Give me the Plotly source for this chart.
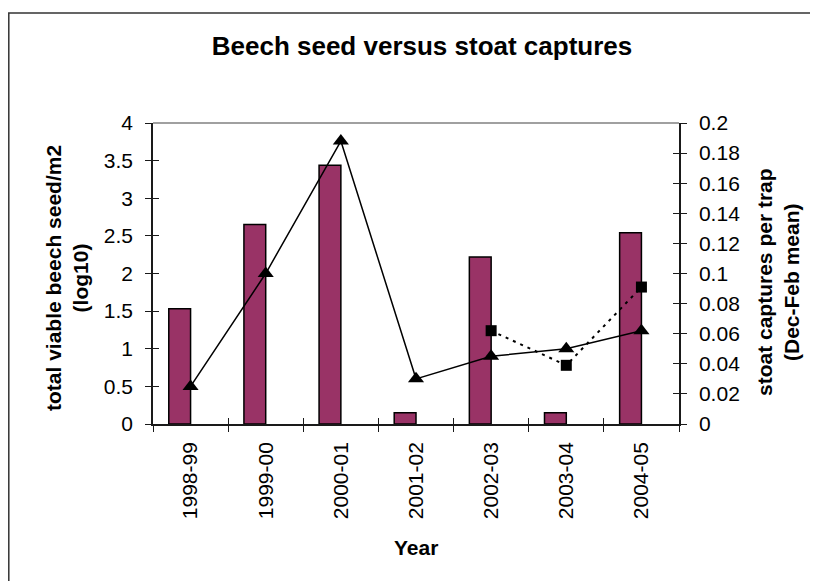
import numpy as np
import plotly.graph_objects as go

# ---- data ----
years = ["1998-99", "1999-00", "2000-01", "2001-02", "2002-03", "2003-04", "2004-05"]
beech_seed_log10 = [1.53, 2.65, 3.44, 0.15, 2.22, 0.15, 2.54]
stoat_captures_a = [0.025, 0.100, 0.188, 0.030, 0.045, 0.050, 0.062]   # triangles, solid
stoat_captures_b = [None, None, None, None, 0.062, 0.039, 0.091]      # squares, dotted

left_ticks = [0, 0.5, 1, 1.5, 2, 2.5, 3, 3.5, 4]
right_ticks = [0, 0.02, 0.04, 0.06, 0.08, 0.1, 0.12, 0.14, 0.16, 0.18, 0.2]
right_tick_text = ["0", "0.02", "0.04", "0.06", "0.08", "0.1", "0.12", "0.14", "0.16", "0.18", "0.2"]

FONT = "Liberation Sans, Arial, sans-serif"
AX = "#1a1a1a"

OFF = 8  # page body margin offset
W, H = 818 - OFF, 581 - OFF   # figure fits inside the window after the body margin
L, R, T, B = 153 - OFF, 679 - OFF, 123 - OFF, 424 - OFF  # plot area in figure pixels


def px(x):
    return (x - OFF - L) / (R - L)


def py(y):
    return (B - (y - OFF)) / (B - T)


fig = go.Figure()

fig.add_trace(go.Bar(
    x=years, y=beech_seed_log10, width=0.29, offset=-0.29,
    marker=dict(color="#993366", line=dict(color="black", width=1.5)),
    xaxis="x", yaxis="y", showlegend=False, hoverinfo="skip"))

fig.add_trace(go.Scatter(
    x=years, y=stoat_captures_a, mode="lines+markers",
    line=dict(color="black", width=1.5),
    marker=dict(symbol="triangle-up", size=14, color="black"),
    xaxis="x", yaxis="y2", showlegend=False, hoverinfo="skip"))

fig.add_trace(go.Scatter(
    x=years, y=stoat_captures_b, mode="lines+markers",
    line=dict(color="black", width=2, dash="3px,5px"),
    marker=dict(symbol="square", size=11, color="black"),
    xaxis="x", yaxis="y2", showlegend=False, hoverinfo="skip"))

# empty helper traces so overlay tick axes exist
n = len(years)
boundaries = list(np.arange(n + 1) - 0.5)
fig.add_trace(go.Scatter(x=[], y=[], xaxis="x2", yaxis="y3", showlegend=False))
fig.add_trace(go.Scatter(x=[], y=[], xaxis="x2", yaxis="y4", showlegend=False))

tickfont = dict(family=FONT, size=21, color="black")

fig.update_layout(
    width=W, height=H,
    margin=dict(l=L, r=W - R, t=T, b=H - B, pad=0),
    paper_bgcolor="white", plot_bgcolor="white",
    showlegend=False,
    title=dict(text="<b>Beech seed versus stoat captures</b>",
               font=dict(family=FONT, size=26, color="black"),
               x=(422 - OFF) / W, xanchor="center", y=1 - (46 - OFF) / H, yanchor="middle"),
    xaxis=dict(type="category", categoryorder="array", categoryarray=years,
               range=[-0.5, n - 0.5], tickson="boundaries",
               ticks="outside", ticklen=6, tickwidth=1.2, tickcolor=AX,
               showline=True, linecolor=AX, linewidth=1.5,
               tickangle=-90, tickfont=tickfont, showgrid=False, zeroline=False,
               ticklabelstandoff=8),
    xaxis2=dict(overlaying="x", anchor="y", side="bottom", range=[-0.5, n - 0.5],
                tickmode="array", tickvals=boundaries, ticks="inside", ticklen=6,
                tickwidth=1.2, tickcolor=AX, showticklabels=False, showline=False,
                showgrid=False, zeroline=False),
    yaxis=dict(range=[0, 4], tickmode="array", tickvals=left_ticks,
               ticks="outside", ticklen=6, tickwidth=1.2, tickcolor=AX,
               showline=True, linecolor=AX, linewidth=1.5,
               tickfont=tickfont, showgrid=False, zeroline=False,
               ticklabelstandoff=8),
    yaxis2=dict(overlaying="y", side="right", anchor="x", range=[0, 0.2],
                tickmode="array", tickvals=right_ticks, ticktext=right_tick_text,
                ticks="outside", ticklen=6, tickwidth=1.2, tickcolor=AX,
                showline=True, linecolor=AX, linewidth=1.5,
                tickfont=tickfont, showgrid=False, zeroline=False,
                ticklabelstandoff=8),
    yaxis3=dict(overlaying="y", side="left", anchor="x2", range=[0, 4],
                tickmode="array", tickvals=left_ticks, ticks="inside", ticklen=6,
                tickwidth=1.2, tickcolor=AX, showticklabels=False, showline=False,
                showgrid=False, zeroline=False),
    yaxis4=dict(overlaying="y", side="right", anchor="x2", range=[0, 0.2],
                tickmode="array", tickvals=right_ticks, ticks="inside", ticklen=6,
                tickwidth=1.2, tickcolor=AX, showticklabels=False, showline=False,
                showgrid=False, zeroline=False),
)

# top border line of plot area (gray)
fig.add_shape(type="line", xref="paper", yref="paper", x0=0, x1=1, y0=1, y1=1,
              line=dict(color="#808080", width=1.5), layer="below")

# outer chart border: a large rectangle whose right and bottom edges lie off the page
fig.add_shape(type="rect", xref="paper", yref="paper",
              x0=px(8.8), x1=px(1600), y0=py(1600), y1=py(13),
              line=dict(color="#333333", width=1.5), fillcolor="rgba(0,0,0,0)")

# axis titles
fig.add_annotation(text="<b>total viable beech seed/m2<br>(log10)</b>", textangle=-90,
                   xref="paper", yref="paper", x=px(67), y=py(278),
                   xanchor="center", yanchor="middle", showarrow=False,
                   font=dict(family=FONT, size=21, color="black"))
fig.add_annotation(text="<b>stoat captures per trap<br>(Dec-Feb mean)</b>", textangle=-90,
                   xref="paper", yref="paper", x=px(778), y=py(282),
                   xanchor="center", yanchor="middle", showarrow=False,
                   font=dict(family=FONT, size=21, color="black"))
fig.add_annotation(text="<b>Year</b>",
                   xref="paper", yref="paper", x=px(416), y=py(547),
                   xanchor="center", yanchor="middle", showarrow=False,
                   font=dict(family=FONT, size=21, color="black"))

fig.write_html("out.html")
